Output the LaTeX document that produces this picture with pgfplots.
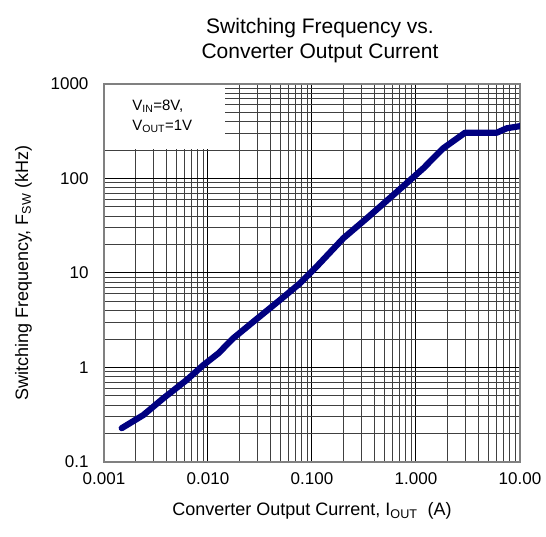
\documentclass[border=0pt]{standalone}
\usepackage{fontspec}
\setmainfont{Liberation Sans}
\usepackage{pgfplots}
\pgfplotsset{compat=1.18}

\definecolor{curve}{RGB}{0,0,128}

\begin{document}
\begin{tikzpicture}
\path[use as bounding box] (-104pt,-75pt) rectangle (442pt,462pt);
\begin{axis}[
  scale only axis,
  width=416pt, height=378pt,
  xmode=log, ymode=log,
  xmin=0.001, xmax=10, ymin=0.1, ymax=1000,
  xtick={0.001,0.01,0.1,1,10},
  xticklabels={0.001,0.010,0.100,1.000,10.00},
  ytick={0.1,1,10,100,1000},
  yticklabels={0.1,1,10,100,1000},
  minor xtick={0.002,0.003,0.004,0.005,0.006,0.007,0.008,0.009,
               0.02,0.03,0.04,0.05,0.06,0.07,0.08,0.09,
               0.2,0.3,0.4,0.5,0.6,0.7,0.8,0.9,
               2,3,4,5,6,7,8,9},
  minor ytick={0.2,0.3,0.4,0.5,0.6,0.7,0.8,0.9,
               2,3,4,5,6,7,8,9,
               20,30,40,50,60,70,80,90,
               200,300,400,500,600,700,800,900},
  /pgf/number format/assume math mode=true,
  tick label style={font=\fontsize{17}{20}\selectfont},
  xticklabel style={yshift=-7pt},
  yticklabel style={xshift=-12pt},
  major tick length=0pt, minor tick length=0pt,
  grid=both,
  major grid style={black, line width=1pt},
  minor grid style={black!75, line width=1pt},
  axis line style={draw=black!50, line width=1.4pt},
  title={Switching Frequency vs.\\Converter Output Current},
  title style={align=center, font=\fontsize{21}{25}\selectfont, yshift=12pt, xshift=8pt},
  xlabel={Converter Output Current, I\textsubscript{OUT}\ \ (A)},
  ylabel={Switching Frequency, F\textsubscript{SW} (kHz)},
  label style={font=\fontsize{18}{21}\selectfont},
  xlabel style={yshift=-11pt},
  ylabel style={yshift=12pt},
  clip=true,
]
% white panel holding the operating conditions
\fill[white] (rel axis cs:0.002,0.998) rectangle (rel axis cs:0.291,0.828);
\node[align=left, font=\fontsize{15}{20}\selectfont, anchor=center]
  at (rel axis cs:0.14,0.915) {V\textsubscript{IN}=8V,\\V\textsubscript{OUT}=1V};

\addplot[color=curve, line width=6.2pt, line join=round, line cap=round] coordinates {
  (0.00148,0.228)
  (0.00239,0.314)
  (0.00372,0.472)
  (0.00624,0.738)
  (0.00902,1.06)
  (0.01256,1.41)
  (0.0175,2.04)
  (0.0273,3.05)
  (0.0492,5.18)
  (0.0767,7.78)
  (0.115,12.2)
  (0.200,23.3)
  (0.336,37.9)
  (0.605,66.9)
  (1.175,128)
  (1.83,209)
  (2.96,305)
  (5.97,305)
  (7.45,340)
  (10.0,358)
};
\end{axis}
\end{tikzpicture}
\end{document}
